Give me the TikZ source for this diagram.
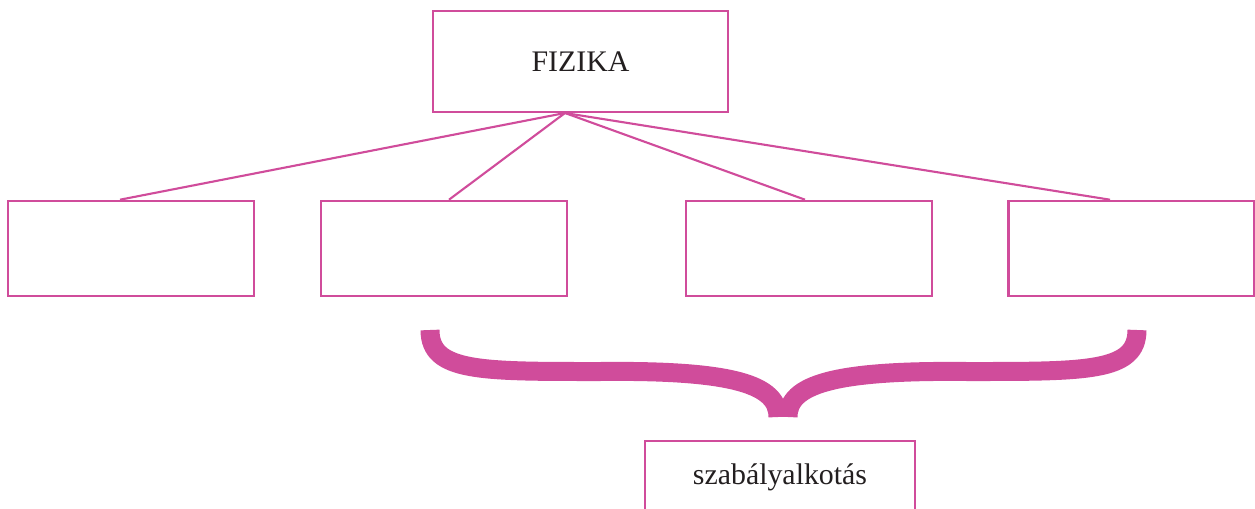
\documentclass[tikz,border=0pt]{standalone}
\usepackage{fontspec}
\setmainfont{Liberation Serif}
\definecolor{fizpink}{RGB}{208,76,155}
\definecolor{fiztext}{RGB}{35,31,32}
\tikzset{
  box/.style={draw=fizpink, line width=1.5pt, minimum width=4.92cm, minimum height=1.9cm, inner sep=0pt, text=fiztext, font=\fontsize{17}{20}\selectfont},
  link/.style={draw=fizpink, line width=1.2pt},
  brace/.style={draw=fizpink, line width=0.38cm}
}
\begin{document}
\begin{tikzpicture}[x=0.02cm, y=-0.02cm]
        \useasboundingbox (0,0) rectangle (1255,508);

        \node [box, minimum width=5.9cm, minimum height=2.02cm] (F) at (580.5, 61.5) {FIZIKA};
        \coordinate (hub) at (565, 113);

        \node [box] (B1) at (131, 248.5) {};
        \node [box] (B2) at (444, 248.5) {};
        \node [box] (B3) at (809, 248.5) {};
        \node [box] (B4) at (1131.5, 248.5) {};

        \draw [link] (hub) -- ([xshift=-0.22cm]B1.north);
        \draw [link] (hub) -- ([xshift=0.1cm]B2.north);
        \draw [link] (hub) -- ([xshift=-0.08cm]B3.north);
        \draw [link] (hub) -- ([xshift=-0.43cm]B4.north);

        \draw [brace] (430, 330) .. controls (430, 372) and (480, 371.5) .. (600, 371.5)
                .. controls (735, 370) and (778, 385) .. (778, 417);
        \draw [brace] (1137, 330) .. controls (1137, 372) and (1087, 371.5) .. (967, 371.5)
                .. controls (832, 370) and (788, 385) .. (788, 417);

        \node [box, minimum width=5.4cm, minimum height=1.44cm] (S) at (780, 477) {szabályalkotás};
    \end{tikzpicture}
\end{document}
